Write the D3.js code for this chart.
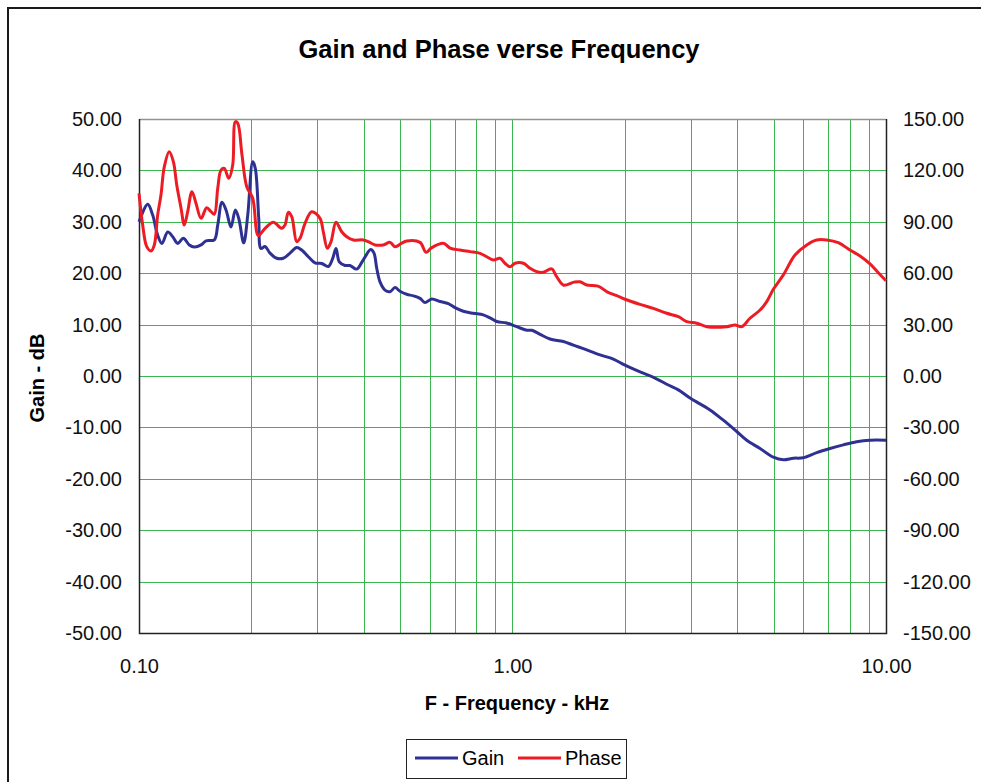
<!DOCTYPE html>
<meta charset="utf-8">
<script src="https://d3js.org/d3.v7.min.js"></script>
<style>
  html, body { margin: 0; background: #fff; overflow: hidden; }
  svg { display: block; }
  text { font-family: "Liberation Sans", Arial, sans-serif; }
</style>
<div id="chart"></div>
<script>

// gain curve (kHz, dB)
var gainFreq = [0.100, 0.1055, 0.1088, 0.1122, 0.1152, 0.1194, 0.1231, 0.1270, 0.1314, 0.1364,
  0.1406, 0.1466, 0.1512, 0.1591, 0.1625, 0.1668, 0.1710, 0.1763, 0.1811, 0.1849,
  0.1907, 0.1955, 0.2016, 0.2048, 0.2092, 0.2121, 0.2175, 0.2243, 0.2337, 0.2434,
  0.2537, 0.2644, 0.2727, 0.2840, 0.2960, 0.3084, 0.3212, 0.3301, 0.3369, 0.3438,
  0.3561, 0.3672, 0.3827, 0.3986, 0.4172, 0.4258, 0.4329, 0.4419, 0.4557, 0.4700,
  0.4847, 0.4998, 0.5209, 0.5426, 0.5654, 0.5831, 0.6077, 0.6396, 0.6732, 0.7016,
  0.7384, 0.7854, 0.8353, 0.8705, 0.9072, 0.9649, 1.026, 1.092, 1.126, 1.185,
  1.260, 1.368, 1.455, 1.580, 1.715, 1.862, 2.001, 2.195, 2.408, 2.613,
  2.780, 2.988, 3.379, 3.668, 3.984, 4.238, 4.600, 4.993, 5.311, 5.648,
  6.007, 6.524, 7.081, 7.687, 8.347, 9.061, 10.0];
var gainDb = [30.0, 33.4, 31.3, 27.4, 25.8, 28.0, 27.1, 25.8, 26.8, 25.5,
  25.1, 25.5, 26.3, 26.5, 29.4, 33.8, 32.3, 29.0, 32.3, 30.7,
  25.9, 31.3, 41.7, 40.4, 30.7, 24.8, 25.2, 23.9, 22.9, 22.9,
  23.9, 25.0, 24.5, 23.2, 22.0, 21.9, 21.3, 22.9, 24.8, 22.2,
  21.5, 21.5, 20.8, 22.6, 24.6, 23.9, 21.0, 18.3, 16.7, 16.4,
  17.2, 16.5, 15.9, 15.6, 15.1, 14.3, 15.0, 14.5, 14.1, 13.3,
  12.6, 12.2, 11.9, 11.3, 10.6, 10.3, 9.6, 8.9, 8.9, 8.1,
  7.2, 6.7, 6.0, 5.1, 4.1, 3.3, 2.1, 0.8, -0.4, -1.75,
  -2.7, -4.3, -6.6, -8.6, -10.8, -12.5, -14.1, -15.8, -16.3, -16.0,
  -15.9, -14.9, -14.1, -13.4, -12.8, -12.5, -12.5];

// phase curve (kHz, degrees)
var phaseFreq = [0.100, 0.1023, 0.1049, 0.1077, 0.1099, 0.1122, 0.1145, 0.1169, 0.1205, 0.1236,
  0.1262, 0.1296, 0.1322, 0.1350, 0.1386, 0.1421, 0.1466, 0.1518, 0.1559, 0.1591,
  0.1625, 0.1658, 0.1692, 0.1739, 0.1782, 0.1811, 0.1838, 0.1887, 0.1943, 0.2016,
  0.2087, 0.2175, 0.2289, 0.2410, 0.2460, 0.2510, 0.2564, 0.2644, 0.2698, 0.2783,
  0.2900, 0.3052, 0.3115, 0.3193, 0.3267, 0.3369, 0.3489, 0.3599, 0.3748, 0.3986,
  0.4111, 0.4284, 0.4509, 0.4700, 0.4847, 0.5051, 0.5209, 0.5654, 0.5867, 0.6077,
  0.6528, 0.6803, 0.7236, 0.7695, 0.8185, 0.8530, 0.8885, 0.9259, 0.9549, 0.9847,
  1.016, 1.069, 1.114, 1.161, 1.209, 1.273, 1.313, 1.368, 1.461, 1.516,
  1.580, 1.694, 1.796, 1.901, 2.001, 2.195, 2.382, 2.588, 2.780, 2.928,
  3.113, 3.311, 3.746, 3.942, 4.108, 4.324, 4.600, 4.794, 4.993, 5.311,
  5.707, 6.135, 6.524, 6.939, 7.454, 8.011, 8.521, 9.061, 9.538, 10.0];
var phaseDeg = [106.6, 88.1, 75.5, 73.0, 76.5, 94.0, 105.6, 122.2, 130.9, 125.1,
  111.5, 97.9, 88.1, 95.9, 107.6, 100.8, 92.0, 98.2, 95.9, 94.4,
  109.6, 120.2, 121.2, 115.4, 123.2, 148.4, 147.5, 129.0, 110.5, 103.7,
  82.0, 86.2, 89.7, 86.2, 88.1, 95.5, 93.0, 78.4, 80.4, 89.1,
  95.9, 92.0, 84.2, 74.5, 78.4, 89.7, 84.2, 81.3, 79.4, 79.4,
  78.4, 76.5, 76.5, 78.0, 75.5, 77.5, 78.8, 78.0, 72.2, 74.9,
  77.5, 74.7, 73.5, 72.6, 71.6, 69.6, 67.7, 68.7, 65.8, 63.8,
  65.8, 65.8, 62.9, 60.9, 60.5, 62.5, 58.0, 53.1, 54.8, 55.0,
  53.1, 52.5, 49.0, 46.9, 44.8, 41.8, 39.5, 36.6, 34.6, 31.7,
  30.8, 28.8, 28.8, 29.8, 28.8, 33.7, 38.5, 43.4, 50.6, 59.0,
  70.6, 76.5, 79.4, 79.4, 77.8, 73.5, 70.0, 65.4, 60.3, 55.6];

var gainTicks = d3.range(-50, 51, 10);
var phaseTicks = d3.range(-150, 151, 30);
var freqTicks = [0.1, 1, 10];
var freqGrid = [0.2, 0.3, 0.4, 0.5, 0.6, 0.7, 0.8, 0.9, 1, 2, 3, 4, 5, 6, 7, 8, 9];

var width = 981, height = 782;
var plotLeft = 139, plotRight = 886, plotTop = 119, plotBottom = 633;

var svg = d3.select("#chart").append("svg")
    .attr("width", width)
    .attr("height", height);

// outer chart frame: only the top and left edges are inside the picture
svg.append("path")
    .attr("d", "M8," + height + "V8H" + width)
    .attr("fill", "none")
    .attr("stroke", "#1a1a1a")
    .attr("stroke-width", 2);

var x = d3.scaleLog().domain([0.1, 10]).range([plotLeft, plotRight]);
var yGain = d3.scaleLinear().domain([-50, 50]).range([plotBottom, plotTop]);
var yPhase = d3.scaleLinear().domain([-150, 150]).range([plotBottom, plotTop]);

// grid
var grid = svg.append("g")
    .attr("stroke", "#3db54f").attr("stroke-width", 1)
    .attr("shape-rendering", "crispEdges");
grid.selectAll(".h").data(gainTicks).enter().append("line")
    .attr("x1", plotLeft).attr("x2", plotRight)
    .attr("y1", function(d){ return Math.round(yGain(d)) + 0.5 })
    .attr("y2", function(d){ return Math.round(yGain(d)) + 0.5 });
grid.selectAll(".v").data(freqGrid).enter().append("line")
    .attr("y1", plotTop).attr("y2", plotBottom)
    .attr("x1", function(d){ return Math.round(x(d)) + 0.5 })
    .attr("x2", function(d){ return Math.round(x(d)) + 0.5 });

// plot frame: grey top, black axes
svg.append("line")
    .attr("x1", plotLeft).attr("x2", plotRight)
    .attr("y1", plotTop + 0.5).attr("y2", plotTop + 0.5)
    .attr("stroke", "#8c968c").attr("stroke-width", 1.5);
svg.append("path")
    .attr("d", "M" + (plotLeft + 0.5) + "," + plotTop + "V" + (plotBottom + 0.5) +
               "H" + (plotRight + 0.5) + "V" + plotTop)
    .attr("fill", "none").attr("stroke", "#222").attr("stroke-width", 1.5);

// curves
var gainData = gainFreq.map(function(f, i){ return [f, gainDb[i]] });
var phaseData = phaseFreq.map(function(f, i){ return [f, phaseDeg[i]] });

var gainLine = d3.line()
    .x(function(d){ return x(d[0]) })
    .y(function(d){ return yGain(d[1]) })
    .curve(d3.curveCatmullRom.alpha(0.5));
var phaseLine = d3.line()
    .x(function(d){ return x(d[0]) })
    .y(function(d){ return yPhase(d[1]) })
    .curve(d3.curveCatmullRom.alpha(0.5));

svg.append("path").datum(gainData)
    .attr("d", gainLine)
    .attr("fill", "none").attr("stroke", "#2e3192")
    .attr("stroke-width", 3).attr("stroke-linejoin", "round");
svg.append("path").datum(phaseData)
    .attr("d", phaseLine)
    .attr("fill", "none").attr("stroke", "#ed1c24")
    .attr("stroke-width", 3).attr("stroke-linejoin", "round");

// axes -- plain hyphen for negatives, like the original
var fmt = function(d){ return d3.format(".2f")(d).replace("\u2212", "-") };
var leftAxis = svg.append("g")
    .attr("transform", "translate(" + plotLeft + ",0)")
    .call(d3.axisLeft(yGain).tickValues(gainTicks).tickFormat(fmt).tickSize(0).tickPadding(17));
var rightAxis = svg.append("g")
    .attr("transform", "translate(" + plotRight + ",0)")
    .call(d3.axisRight(yPhase).tickValues(phaseTicks).tickFormat(fmt).tickSize(0).tickPadding(17));
var bottomAxis = svg.append("g")
    .attr("transform", "translate(0," + plotBottom + ")")
    .call(d3.axisBottom(x).tickValues(freqTicks).tickFormat(fmt).tickSize(0).tickPadding(26));

[leftAxis, rightAxis, bottomAxis].forEach(function(a){
  a.select(".domain").remove();
  a.selectAll("text")
    .style("font-family", "'Liberation Sans', Arial, sans-serif")
    .style("font-size", "20px")
    .attr("fill", "#111");
});

// titles
svg.append("text")
    .attr("x", 499).attr("y", 58)
    .attr("text-anchor", "middle")
    .style("font-size", "25.5px").style("font-weight", "bold")
    .text("Gain and Phase verse Frequency");

svg.append("text")
    .attr("x", 517).attr("y", 710)
    .attr("text-anchor", "middle")
    .style("font-size", "20px").style("font-weight", "bold")
    .text("F - Frequency - kHz");

svg.append("text")
    .attr("transform", "translate(44,378) rotate(-90)")
    .attr("text-anchor", "middle")
    .style("font-size", "20px").style("font-weight", "bold")
    .text("Gain - dB");

// legend
var legend = svg.append("g").attr("transform", "translate(406,739)");
legend.append("rect")
    .attr("x", 0.5).attr("y", 0.5).attr("width", 220).attr("height", 39)
    .attr("fill", "#fff").attr("stroke", "#222").attr("stroke-width", 1);
var items = [["Gain", "#2e3192", 9], ["Phase", "#ed1c24", 112]];
items.forEach(function(it){
  legend.append("line")
      .attr("x1", it[2]).attr("x2", it[2] + 43)
      .attr("y1", 19).attr("y2", 19)
      .attr("stroke", it[1]).attr("stroke-width", 3);
  legend.append("text")
      .attr("x", it[2] + 47).attr("y", 26)
      .style("font-size", "20px")
      .text(it[0]);
});
</script>
